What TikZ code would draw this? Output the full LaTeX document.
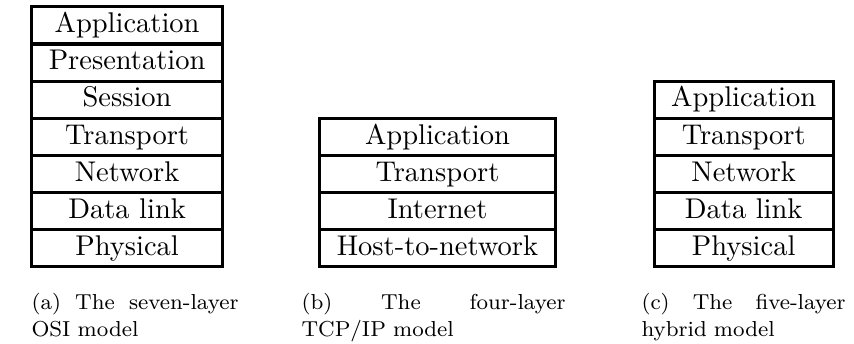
\documentclass[tikz,border=0pt]{standalone}
\usetikzlibrary{positioning}

% one unit = one pixel of the final image (0.35088pt)
\tikzset{
  x=0.35088pt, y=-0.35088pt,
  layer/.style={draw, line width=1.09pt, inner sep=0pt,
    minimum height=13.02pt, text height=7.1pt, text depth=2pt,
    font=\fontsize{10}{12}\selectfont},
  osi/.style={layer, minimum width=67.09pt},
  tcp/.style={layer, minimum width=82.81pt},
  hyb/.style={layer, minimum width=62.91pt},
  subcap/.style={anchor=base west, inner sep=0pt, align=left,
    font=\fontsize{7.6}{9.5}\selectfont}
}

\begin{document}
\begin{tikzpicture}
\useasboundingbox (0,0) rectangle (854,344);

% (a) seven-layer OSI stack
\node[osi] (a1) at (127.1, 25.45) {Application};
\node[osi] (a2) at (127.1, 62.55) {Presentation};
\node[osi] (a3) at (127.1, 99.65) {Session};
\node[osi] (a4) at (127.1,136.75) {Transport};
\node[osi] (a5) at (127.1,173.85) {Network};
\node[osi] (a6) at (127.1,210.95) {Data link};
\node[osi] (a7) at (127.1,248.05) {Physical};

% (b) four-layer TCP/IP stack
\node[tcp] (b1) at (437.5,136.75) {Application};
\node[tcp] (b2) at (437.5,173.85) {Transport};
\node[tcp] (b3) at (437.5,210.95) {Internet};
\node[tcp] (b4) at (437.5,248.05) {Host-to-network};

% (c) five-layer hybrid stack
\node[hyb] (c1) at (743.7, 99.65) {Application};
\node[hyb] (c2) at (743.7,136.75) {Transport};
\node[hyb] (c3) at (743.7,173.85) {Network};
\node[hyb] (c4) at (743.7,210.95) {Data link};
\node[hyb] (c5) at (743.7,248.05) {Physical};

% sub-captions
\node[subcap, text width=72.6pt] (capa) at (31,309.5)
  {(a)\hfill The\hfill seven-layer\\OSI model};
\node[subcap, text width=92.6pt] (capb) at (301,309.5)
  {(b)\hfill The\hfill four-layer\\TCP/IP model};
\node[subcap, text width=71.6pt] (capc) at (641,309.5)
  {(c)\hfill The\hfill five-layer\\hybrid model};
\end{tikzpicture}
\end{document}
